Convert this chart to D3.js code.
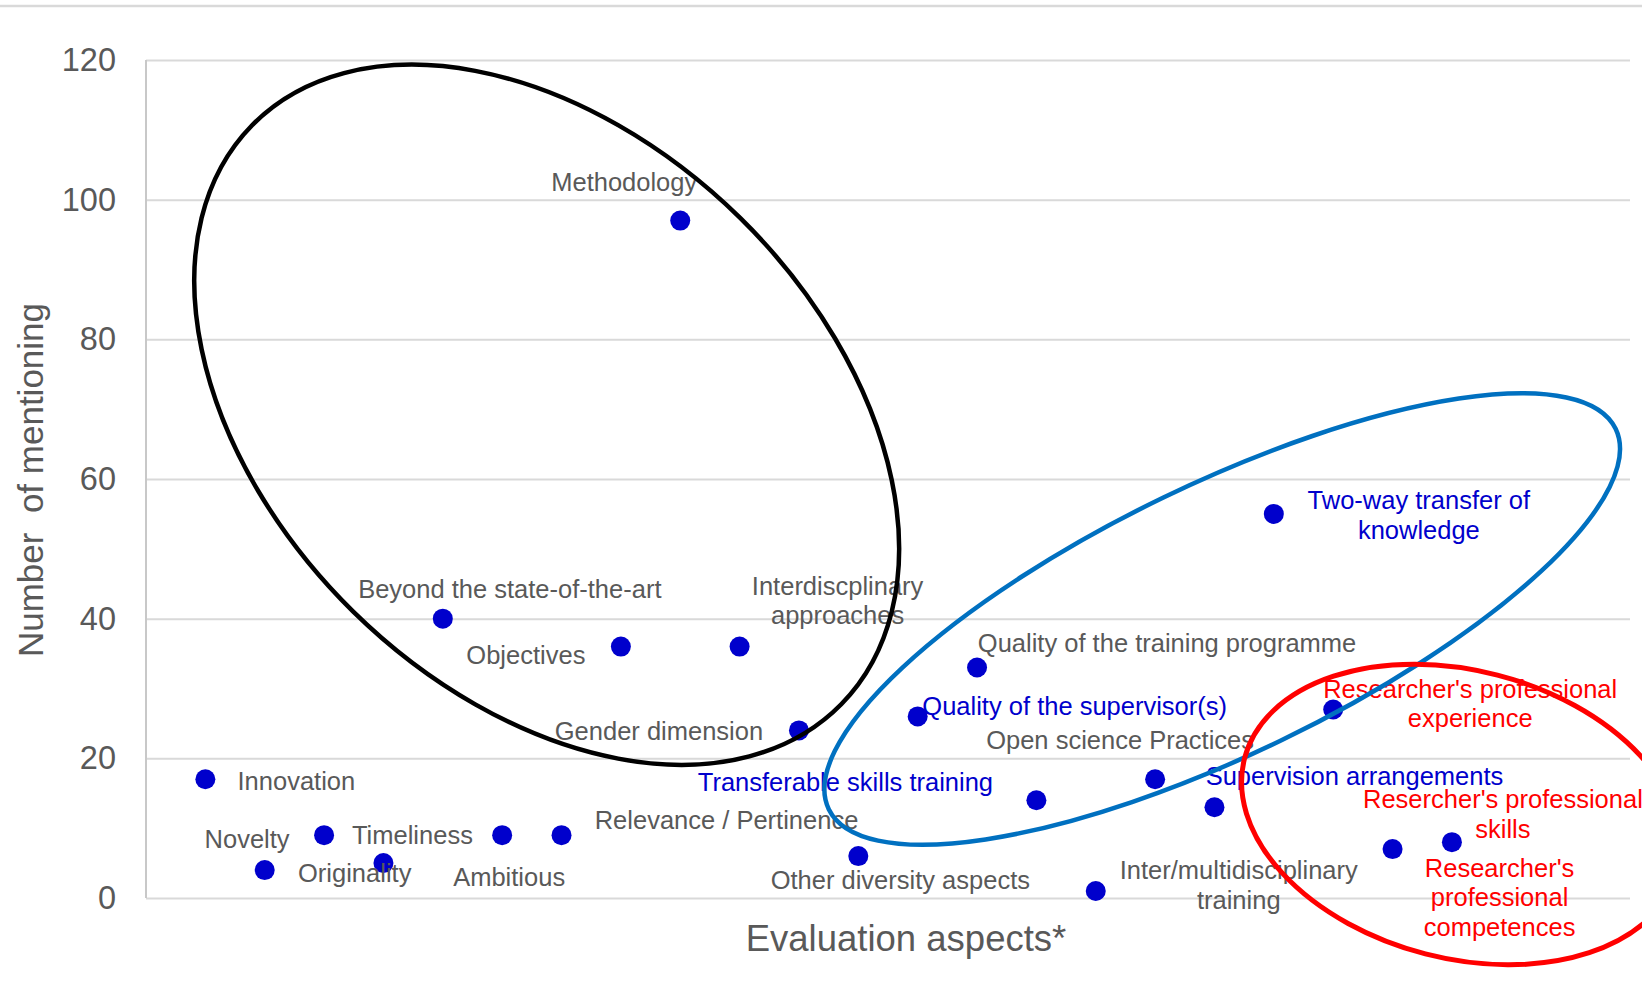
<!DOCTYPE html>
<html>
<head>
<meta charset="utf-8">
<script src="https://cdn.jsdelivr.net/npm/d3@7"></script>
<style>
  html, body { margin: 0; padding: 0; background: #ffffff; }
  svg { display: block; font-family: "Liberation Sans", Arial, sans-serif; }
</style>
</head>
<body>
<svg id="chart" width="1642" height="995"></svg>
<script>
// ---- data ----
const categories = [
  "Innovation", "Originality", "Novelty", "Timeliness", "Beyond the state-of-the-art",
  "Ambitious", "Relevance / Pertinence", "Objectives", "Methodology",
  "Interdiscplinary|approaches", "Gender dimension", "Other diversity aspects",
  "Quality of the supervisor(s)", "Quality of the training programme",
  "Transferable skills training", "Inter/multidisciplinary|training",
  "Open science Practices", "Supervision arrangements",
  "Two-way transfer of|knowledge", "Researcher's professional|experience",
  "Researcher's|professional|competences", "Resercher's professional|skills"
];
const mentions = [17, 4, 9, 5, 40, 9, 9, 36, 97, 36, 24, 6, 26, 33, 14, 1, 17, 13, 55, 27, 7, 8];
// label colour group: 0 = gray, 1 = blue, 2 = red
const groups = [0,0,0,0,0,0,0,0,0,0,0,0,1,0,1,0,0,1,1,2,2,2];
const yTicks = [0, 20, 40, 60, 80, 100, 120];
const xTitle = "Evaluation aspects*";
const yTitle = "Number  of mentioning";

// ---- layout / styling (not data) ----
const labelOffsets = [
  [91, 2], [90, 3], [-77, 4], [29, -28], [67, -30],
  [7, 42], [165, -15], [-95, 8], [-56, -39], [98, -46],
  [-140, 1], [42, 24], [157, -10], [190, -24], [-191, -18],
  [143, -6], [-35, -39], [140, -31], [145, 1], [137, -6],
  [107, 48], [51, -28]
];
const groupColors = ["#595959", "#0000CC", "#FF0000"];
// annotation ellipses: centre in data units, radii in px, rotation in degrees
const ellipses = [
  { cx: 6.75, cy: 69.2, rx: 413, ry: 276, rot: 44.5, color: "#000000", w: 4.5 },
  { cx: 18.13, cy: 39.95, rx: 437, ry: 135, rot: -25.8, color: "#0070C0", w: 4.5 },
  { cx: 22.16, cy: 11.96, rx: 224, ry: 144, rot: 14.5, color: "#FF0000", w: 5 }
];

const svg = d3.select("#chart");
const W = 1642, H = 995;
const plotL = 146, plotR = 1630, plotT = 60, plotB = 898;

svg.append("rect").attr("width", W).attr("height", H).attr("fill", "#ffffff");
// top frame line
svg.append("line").attr("x1", 0).attr("x2", W).attr("y1", 6).attr("y2", 6)
  .attr("stroke", "#d9d9d9").attr("stroke-width", 2.5);

const x = d3.scaleLinear().domain([0, 25]).range([plotL, plotR]);
const y = d3.scaleLinear().domain([0, 120]).range([plotB, plotT]);

// gridlines + y axis labels
const yAxis = d3.axisLeft(y).tickValues(yTicks).tickSize(-(plotR - plotL)).tickPadding(30)
  .tickFormat(d3.format("d"));
const gy = svg.append("g").attr("transform", `translate(${plotL},0)`).call(yAxis);
gy.select(".domain").remove();
gy.selectAll(".tick line").attr("stroke", "#d9d9d9").attr("stroke-width", 2);
gy.selectAll(".tick text").attr("fill", "#595959").attr("font-size", 32.5)
  .attr("font-family", "'Liberation Sans', Arial, sans-serif");
// vertical axis line
svg.append("line").attr("x1", plotL).attr("x2", plotL).attr("y1", y(120)).attr("y2", y(0))
  .attr("stroke", "#c8c8c8").attr("stroke-width", 2);

// axis titles
svg.append("text").attr("x", 906).attr("y", 951).attr("text-anchor", "middle")
  .attr("font-size", 36.5).attr("fill", "#595959").text(xTitle);
svg.append("text").attr("transform", "translate(43,480) rotate(-90)")
  .attr("text-anchor", "middle").attr("font-size", 35).attr("fill", "#595959")
  .style("white-space", "pre").text(yTitle);

// points
const data = categories.map((c, i) => ({ name: c, idx: i + 1, v: mentions[i], g: groups[i], off: labelOffsets[i] }));

svg.append("g").selectAll("circle").data(data).join("circle")
  .attr("cx", d => x(d.idx)).attr("cy", d => y(d.v)).attr("r", 10)
  .attr("fill", "#0000CC");

// data labels
const lineH = 29.5;
const lg = svg.append("g");
data.forEach(d => {
  const lines = d.name.split("|");
  const cx = x(d.idx) + d.off[0];
  const cy = y(d.v) + d.off[1];
  const t = lg.append("text").attr("text-anchor", "middle").attr("font-size", 25.5)
    .attr("fill", groupColors[d.g]);
  lines.forEach((ln, k) => {
    t.append("tspan").attr("x", cx)
      .attr("y", cy + (k - (lines.length - 1) / 2) * lineH)
      .attr("dy", "0.35em").text(ln);
  });
});

// annotation ellipses
svg.append("g").selectAll("ellipse").data(ellipses).join("ellipse")
  .attr("transform", e => `translate(${x(e.cx)},${y(e.cy)}) rotate(${e.rot})`)
  .attr("rx", e => e.rx).attr("ry", e => e.ry)
  .attr("fill", "none").attr("stroke", e => e.color).attr("stroke-width", e => e.w);
</script>
</body>
</html>
